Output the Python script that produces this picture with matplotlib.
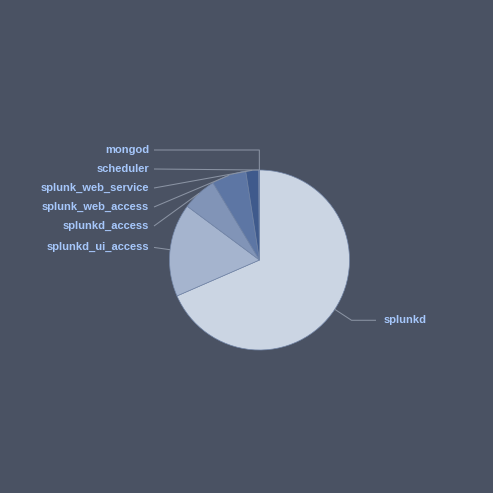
import numpy as np
import matplotlib.pyplot as plt

# sourcetype share of events (percent)
labels = ["splunkd", "splunkd_ui_access", "splunkd_access", "splunk_web_access",
          "splunk_web_service", "scheduler", "mongod"]
values = [68.6, 16.75, 6.2, 6.2, 2.3, 0.1, 0.05]
colors = ["#cbd5e3", "#a5b4ce", "#8194b7", "#5d76a4", "#3f5a8c", "#3a5282", "#34497a"]

BG = "#4a5263"
LABEL_COLOR = "#a6c7fb"
LINE_COLOR = "#8a93a3"

W = H = 493
cx, cy_px, r = 259.5, 260, 90
cy = H - cy_px
dist = 20
spacing = 19

fig = plt.figure(figsize=(W / 100, H / 100), dpi=100, facecolor=BG)
ax = fig.add_axes([0, 0, 1, 1])
ax.set_facecolor(BG)

wedges, _ = ax.pie(values, colors=colors, startangle=90, counterclock=False,
                   center=(cx, cy), radius=r, frame=True,
                   wedgeprops=dict(edgecolor="#7386a8", linewidth=0.5))
ax.set_xlim(0, W)
ax.set_ylim(0, H)
ax.set_aspect("equal")
ax.axis("off")

# where each connector lands on the pie and where it breaks
info = []
for w, lab in zip(wedges, labels):
    mid = np.radians((w.theta1 + w.theta2) / 2)
    ex, ey = cx + r * np.cos(mid), cy + r * np.sin(mid)
    bx, by = cx + (r + dist) * np.cos(mid), cy + (r + dist) * np.sin(mid)
    side = "right" if np.cos(mid) >= 0 else "left"
    info.append(dict(label=lab, edge=(ex, ey), brk=(bx, by), side=side, y=by))

# spread the labels on each side, top down
top = cy + r + dist
for side in ("left", "right"):
    items = sorted([d for d in info if d["side"] == side], key=lambda d: -d["y"])
    prev = None
    for d in items:
        y = min(d["y"], top)
        if prev is not None:
            y = min(y, prev - spacing)
        d["y"] = y
        prev = y

for d in info:
    ex, ey = d["edge"]
    bx, by = d["brk"]
    ly = d["y"]
    if d["side"] == "left":
        tx = cx - r - dist - 0.5
        start = tx + 5
        ha = "right"
        between = bx > start
    else:
        tx = cx + r + dist + 14.5
        start = tx - 8
        ha = "left"
        between = bx < start
    if between and ly >= by - 1:
        xs, ys = [start, bx, ex], [ly, ly, ey]
    else:
        xs, ys = [start, ex], [ly, ey]
    ax.plot(xs, ys, color=LINE_COLOR, lw=0.75, solid_capstyle="butt")
    ax.text(tx, ly, d["label"], ha=ha, va="center", color=LABEL_COLOR,
            fontsize=8, fontweight="bold", family=["Liberation Sans", "DejaVu Sans"])

fig.savefig("out.png", dpi=100, facecolor=BG)
